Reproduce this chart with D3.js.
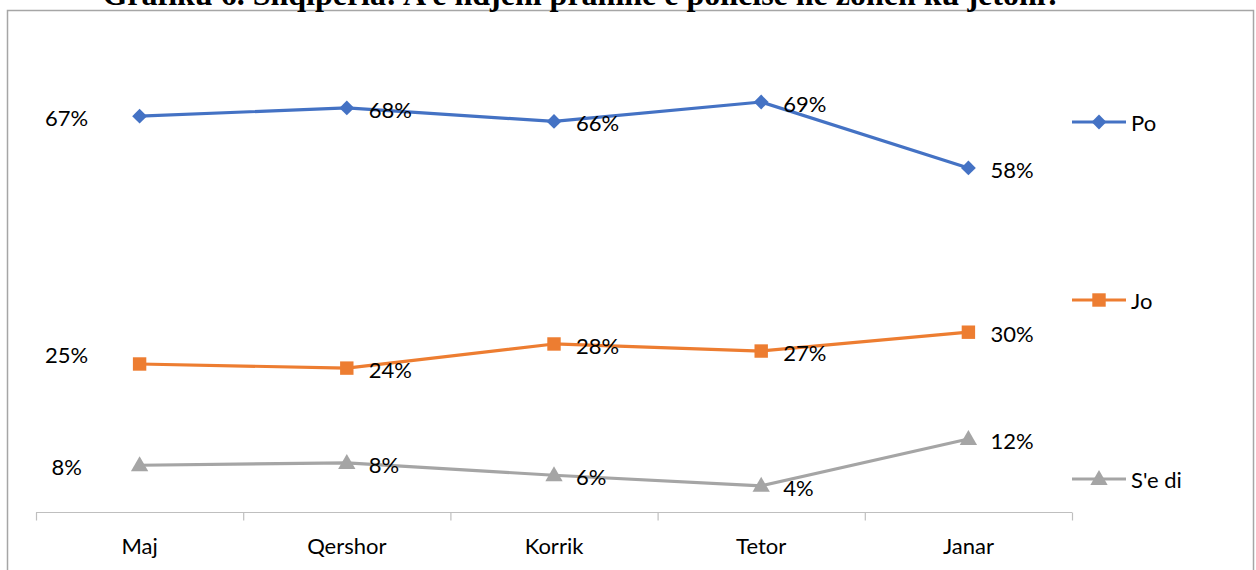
<!DOCTYPE html>
<html>
<head>
<meta charset="utf-8">
<script src="https://cdn.jsdelivr.net/npm/d3@7"></script>
<style>
  body { margin: 0; background: #fff; }
  svg text { font-family: Lato, "Open Sans", sans-serif; }
</style>
</head>
<body>
<svg id="chart" width="1256" height="570"></svg>
<script>
const categories = ["Maj", "Qershor", "Korrik", "Tetor", "Janar"];
const seriesNames = ["Po", "Jo", "S'e di"];
const poValues = [66.9, 68.3, 66.0, 69.3, 58.1];
const joValues = [24.8, 24.1, 28.2, 27.0, 30.2];
const seDiValues = [7.6, 8.0, 5.9, 4.1, 12.05];
const labels = [
    ["67%", "68%", "66%", "69%", "58%"],
    ["25%", "24%", "28%", "27%", "30%"],
    ["8%", "8%", "6%", "4%", "12%"]
];
const titleText = "Grafiku 6. Shqipëria: A e ndjeni praninë e policisë në zonën ku jetoni?";

const colors = ["#4472C4", "#ED7D31", "#A5A5A5"];
const series = [poValues, joValues, seDiValues];

// marker shapes: diamond is a square turned 45 degrees
const markers = [
    { type: d3.symbolSquare, size: 110, rotate: 45, dy: 0 },
    { type: d3.symbolSquare, size: 180, rotate: 0, dy: 0 },
    { type: d3.symbolTriangle, size: 130, rotate: 0, dy: 1 }
];

const svg = d3.select("#chart");

// outer frame
svg.append("rect")
    .attr("x", 7.5).attr("y", 10.5)
    .attr("width", 1246).attr("height", 580)
    .attr("fill", "none")
    .attr("stroke", "#A6A6A6")
    .attr("stroke-width", 1.5);

// title (cut off at the top in the original)
svg.append("text")
    .attr("x", 582)
    .attr("y", 5)
    .attr("text-anchor", "middle")
    .style("font-family", "'Liberation Serif', 'Times New Roman', serif")
    .style("font-weight", "bold")
    .style("font-size", "32px")
    .text(titleText);

const x = d3.scaleBand()
    .domain(categories)
    .range([36, 1072]);

const y = d3.scaleLinear()
    .domain([0, 80])
    .range([510, 39]);

const cx = c => x(c) + x.bandwidth() / 2;

// x axis
const axisY = 512.5;
svg.append("line")
    .attr("x1", x.range()[0]).attr("x2", x.range()[1])
    .attr("y1", axisY).attr("y2", axisY)
    .attr("stroke", "#BFBFBF").attr("stroke-width", 1.2);

const edges = categories.map(c => x(c)).concat([x.range()[1]]);
svg.selectAll("line.tick")
    .data(edges)
    .enter().append("line")
    .attr("class", "tick")
    .attr("x1", d => d + 0.5).attr("x2", d => d + 0.5)
    .attr("y1", axisY).attr("y2", axisY + 8)
    .attr("stroke", "#BFBFBF").attr("stroke-width", 1.2);

svg.selectAll("text.cat")
    .data(categories)
    .enter().append("text")
    .attr("class", "cat")
    .attr("x", d => cx(d))
    .attr("y", 545)
    .attr("text-anchor", "middle")
    .attr("dominant-baseline", "central")
    .style("font-size", "22px")
    .attr("fill", "#000")
    .text(d => d);

const line = d3.line()
    .x((d, i) => cx(categories[i]))
    .y(d => y(d));

const markerPath = s => d3.symbol().type(markers[s].type).size(markers[s].size)();

series.forEach((vals, s) => {
    const g = svg.append("g");

    g.append("path")
        .datum(vals)
        .attr("d", line)
        .attr("fill", "none")
        .attr("stroke", colors[s])
        .attr("stroke-width", 3.2)
        .attr("stroke-linejoin", "round");

    g.selectAll("path.marker")
        .data(vals)
        .enter().append("path")
        .attr("class", "marker")
        .attr("d", markerPath(s))
        .attr("transform", (d, i) =>
            `translate(${cx(categories[i])},${y(d) + markers[s].dy}) rotate(${markers[s].rotate})`)
        .attr("fill", colors[s]);

    // data labels: first one to the left, others to the right
    g.selectAll("text.lbl")
        .data(vals)
        .enter().append("text")
        .attr("class", "lbl")
        .attr("x", (d, i) => i === 0 ? cx(categories[i]) - 73 : cx(categories[i]) + 22)
        .attr("y", (d, i) => y(d) + (i === 0 && s === 1 ? -9 : 1.5))
        .attr("text-anchor", (d, i) => i === 0 ? "middle" : "start")
        .attr("dominant-baseline", "central")
        .style("font-size", "22px")
        .attr("fill", "#000")
        .text((d, i) => labels[s][i]);
});

// legend
const legendY = [122, 300, 479];
seriesNames.forEach((name, s) => {
    const g = svg.append("g").attr("transform", `translate(1072,${legendY[s]})`);
    g.append("line")
        .attr("x1", 0).attr("x2", 54)
        .attr("y1", 0).attr("y2", 0)
        .attr("stroke", colors[s])
        .attr("stroke-width", 3.2);
    g.append("path")
        .attr("d", markerPath(s))
        .attr("transform", `translate(27,${markers[s].dy}) rotate(${markers[s].rotate})`)
        .attr("fill", colors[s]);
    g.append("text")
        .attr("x", 59)
        .attr("y", 0)
        .attr("dominant-baseline", "central")
        .style("font-size", "22px")
        .attr("fill", "#000")
        .text(name);
});
</script>
</body>
</html>
